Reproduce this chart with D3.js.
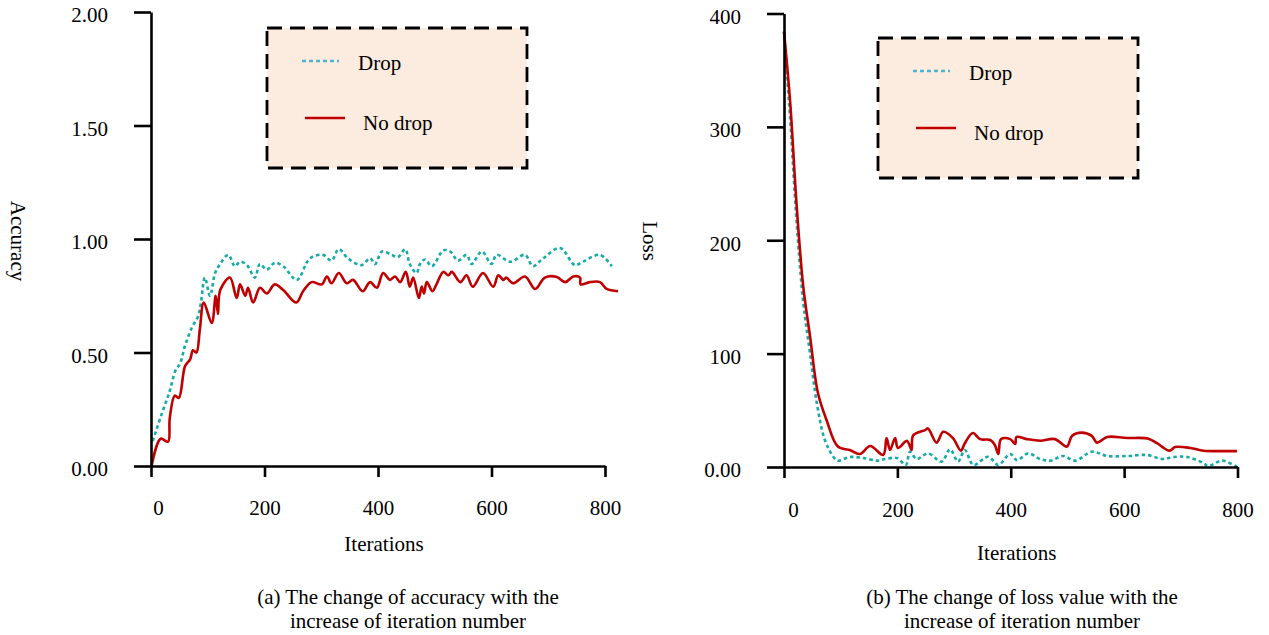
<!DOCTYPE html>
<html>
<head>
<meta charset="utf-8">
<script src="https://cdn.jsdelivr.net/npm/d3@7"></script>
<style>
  body { margin: 0; background: #fff; }
  text { font-family: "Liberation Serif", "Times New Roman", serif; fill: #000; }
</style>
</head>
<body>
<div id="chart"></div>
<script>
// (a) accuracy
const accDropIter = [3,19,33,43,51,60,72,83,88,95,104,113,122,136,148,157,169,183,192,204,218,233,257,280,303,318,331,347,371,386,395,407,424,435,448,456,468,474,483,495,515,527,541,556,565,583,600,609,633,659,673,691,721,747,761,791,812];
const accDrop = [0.11,0.23,0.33,0.42,0.45,0.53,0.61,0.66,0.72,0.83,0.75,0.85,0.89,0.93,0.88,0.90,0.885,0.83,0.89,0.865,0.895,0.88,0.82,0.915,0.93,0.905,0.955,0.915,0.885,0.915,0.89,0.945,0.93,0.92,0.955,0.89,0.85,0.89,0.91,0.88,0.95,0.945,0.905,0.93,0.89,0.945,0.89,0.93,0.90,0.93,0.88,0.915,0.96,0.885,0.90,0.93,0.88];
const accNoDropIter = [1,17,30,33,42,49,60,69,74,80,86,93,107,114,118,122,139,151,157,166,171,180,192,204,218,233,256,268,283,301,310,318,331,345,356,373,386,398,409,421,430,439,449,456,462,472,477,481,486,496,503,515,524,530,545,556,567,585,603,612,621,626,638,659,677,694,715,730,744,756,757,773,791,803,823];
const accNoDrop = [0,0.12,0.107,0.21,0.31,0.30,0.44,0.47,0.51,0.50,0.60,0.72,0.63,0.75,0.67,0.775,0.83,0.74,0.80,0.75,0.785,0.72,0.785,0.76,0.80,0.775,0.72,0.77,0.81,0.80,0.835,0.805,0.85,0.805,0.82,0.77,0.81,0.785,0.85,0.82,0.835,0.81,0.855,0.79,0.83,0.74,0.79,0.76,0.81,0.77,0.80,0.855,0.84,0.855,0.81,0.84,0.79,0.85,0.79,0.84,0.82,0.83,0.805,0.835,0.78,0.83,0.833,0.81,0.835,0.83,0.80,0.81,0.81,0.78,0.77];

// (b) loss
const lossDropIter = [0,11,22,34,46,58,72,87,95,116,140,164,178,199,215,222,234,254,278,293,307,319,334,360,378,399,411,431,452,470,492,514,543,570,605,640,668,687,711,740,748,773,799];
const lossDrop = [384,306,218,145,100,56,24,9,5.6,8.8,7.9,5.6,7,7.9,1.8,13.5,7,12,4.7,15.5,4.7,15,1.8,9,1.8,11.5,6,12,7,5.6,9.7,5.6,13.5,9.7,9.7,10.6,7,8.8,8.8,3.5,0.9,5.6,0];
const lossNoDropIter = [0,11,22,34,46,60,75,95,116,134,152,175,181,187,196,201,217,225,228,249,254,269,281,298,312,319,333,346,364,372,378,383,399,408,410,428,452,478,499,508,525,543,552,570,605,643,658,680,690,717,740,775,799];
const lossNoDrop = [384,321,233,159,115,65,41.5,18,15,11.5,18.5,10.6,25.6,15,25.6,16.8,23,15,28,32.6,34,21.5,31,25.5,14.4,21,30,24.6,23.8,19.4,11.5,24.6,24.6,20.3,26.5,24.6,23.2,24.6,18,27.4,30.3,27.4,21.5,26.5,25.6,25,21,14.4,17.6,16.8,14.4,14,14];

const xTicks = [0,200,400,600,800];
const accTicks = [0,0.5,1,1.5,2];
const lossTicks = [0,100,200,300,400];
const seriesNames = ["Drop", "No drop"];

const width = 1269, height = 635;
const teal = "#16aaa9", red = "#c00000";

const svg = d3.select("#chart").append("svg")
  .attr("width", width).attr("height", height)
  .attr("viewBox", [0, 0, width, height]);

function panel(o) {
  let x = d3.scaleLinear().domain([0, 800]).range([o.left, o.right]);
  let y = d3.scaleLinear().domain(o.yDomain).range([o.bottom, o.top]);

  let line = d3.line()
    .x(d => x(d[0]))
    .y(d => y(d[1]))
    .curve(d3.curveCatmullRom.alpha(0.5));

  svg.append("path")
    .datum(d3.zip(o.dropX, o.drop))
    .attr("fill", "none")
    .attr("stroke", teal)
    .attr("stroke-width", 2.6)
    .attr("stroke-dasharray", "3.5,3")
    .attr("d", line);

  svg.append("path")
    .datum(d3.zip(o.noDropX, o.noDrop))
    .attr("fill", "none")
    .attr("stroke", red)
    .attr("stroke-width", 2.6)
    .attr("d", line);

  let gx = svg.append("g")
    .attr("transform", `translate(0,${o.bottom})`)
    .call(d3.axisBottom(x).tickValues(xTicks).tickSize(11).tickSizeOuter(0));
  gx.selectAll("text")
    .attr("y", o.xLabelY).attr("dy", null)
    .attr("dx", d => d === 0 ? o.zeroShift : 0);

  let gy = svg.append("g")
    .attr("transform", `translate(${o.left},0)`)
    .call(d3.axisLeft(y).tickValues(o.yTicks).tickFormat(o.yFormat)
      .tickSize(17).tickPadding(26).tickSizeOuter(0));
  gy.selectAll("text").attr("dy", "0.47em");

  for (let g of [gx, gy]) {
    g.selectAll("path, line").attr("stroke", "#000").attr("stroke-width", 2.6);
    g.selectAll("text").attr("font-size", 21).attr("font-family", null);
  }

  svg.append("text")
    .attr("x", (o.left + o.right) / 2 + 6)
    .attr("y", o.titleY)
    .attr("text-anchor", "middle")
    .attr("font-size", 21)
    .text("Iterations");

  svg.append("text")
    .attr("transform", `translate(${o.yTitleX},241) rotate(90)`)
    .attr("text-anchor", "middle")
    .attr("dominant-baseline", "central")
    .attr("font-size", 21)
    .text(o.yTitle);

  o.caption.forEach((t, i) => {
    svg.append("text")
      .attr("x", o.captionX)
      .attr("y", 604 + i * 24)
      .attr("text-anchor", "middle")
      .attr("font-size", 21)
      .text(t);
  });

  // legend
  let lg = svg.append("g").attr("transform", `translate(${o.legX},${o.legY})`);
  lg.append("rect")
    .attr("width", 260).attr("height", 140)
    .attr("fill", "#fcebdf")
    .attr("stroke", "#000")
    .attr("stroke-width", 2.8)
    .attr("stroke-dasharray", "15,8");
  lg.append("line")
    .attr("x1", 35).attr("x2", 72).attr("y1", 33).attr("y2", 33)
    .attr("stroke", "#4db3cf").attr("stroke-width", 2.4)
    .attr("stroke-dasharray", "4,3");
  lg.append("text").attr("x", 91).attr("y", 42).attr("font-size", 21).text(seriesNames[0]);
  lg.append("line")
    .attr("x1", 38).attr("x2", 78).attr("y1", 90).attr("y2", 90)
    .attr("stroke", red).attr("stroke-width", 2.6);
  lg.append("text").attr("x", 96).attr("y", 102).attr("font-size", 21).text(seriesNames[1]);
}

panel({
  left: 151, right: 605, top: 12, bottom: 466,
  yDomain: [0, 2], yTicks: accTicks, yFormat: d3.format(".2f"),
  dropX: accDropIter, drop: accDrop, noDropX: accNoDropIter, noDrop: accNoDrop,
  xLabelY: 49, zeroShift: 7, titleY: 551,
  yTitle: "Accuracy", yTitleX: 18,
  caption: ["(a) The change of accuracy with the", "increase of iteration number"], captionX: 408,
  legX: 267, legY: 28
});

panel({
  left: 784, right: 1237.5, top: 13.5, bottom: 467,
  yDomain: [0, 400], yTicks: lossTicks, yFormat: d => d === 0 ? "0.00" : d,
  dropX: lossDropIter, drop: lossDrop, noDropX: lossNoDropIter, noDrop: lossNoDrop,
  xLabelY: 50, zeroShift: 9, titleY: 560,
  yTitle: "Loss", yTitleX: 650,
  caption: ["(b) The change of loss value with the", "increase of iteration number"], captionX: 1022,
  legX: 878, legY: 38
});
</script>
</body>
</html>
